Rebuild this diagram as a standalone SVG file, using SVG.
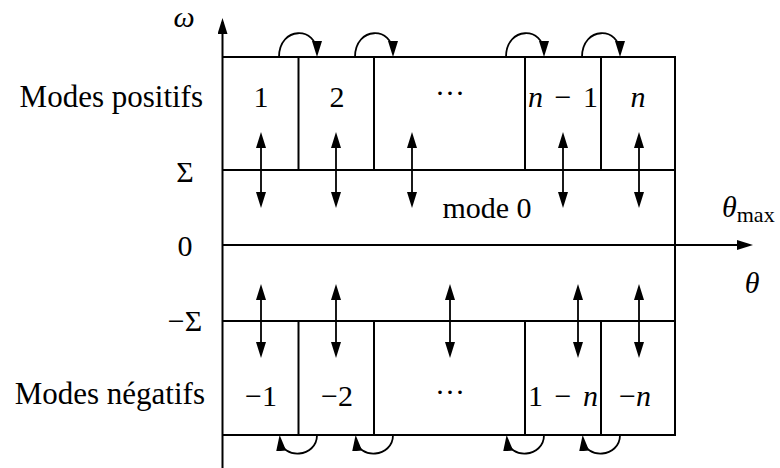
<svg xmlns="http://www.w3.org/2000/svg" width="780" height="468" viewBox="0 0 780 468">
<style>
.ln{stroke:#000;stroke-width:2;fill:none}
.ar{stroke:#000;stroke-width:1.8;fill:none}
.t{font-family:"Liberation Serif","Times New Roman",serif;font-size:30px;fill:#000}
.lab{font-family:"Liberation Serif","Times New Roman",serif;font-size:31px;fill:#000}
.i{font-style:italic}
.m{text-anchor:middle}
.w{word-spacing:4px}
</style>
<defs>
<marker id="ah" markerUnits="userSpaceOnUse" markerWidth="18" markerHeight="12" refX="12" refY="5" orient="auto-start-reverse">
<path d="M0,0 L16,5 L0,10 z" fill="#000"/>
</marker>
</defs>
<rect width="780" height="468" fill="#fff"/>
<g id="axes">
<line class="ln" x1="222.5" y1="468" x2="222.5" y2="22" marker-end="url(#ah)"/>
<line class="ln" x1="222.5" y1="245" x2="749" y2="245" marker-end="url(#ah)"/>
<text class="t i m" x="184" y="27">ω</text>
<text class="t" x="722" y="217"><tspan class="i">θ</tspan><tspan font-size="22" dy="5">max</tspan></text>
<text class="t i m" x="752" y="293">θ</text>
<text class="t m" x="185" y="182">Σ</text>
<text class="t m" x="185" y="256">0</text>
<text class="t m" x="185" y="331">−Σ</text>
<text class="lab" x="203" y="107" text-anchor="end">Modes positifs</text>
<text class="lab" x="205" y="404" text-anchor="end">Modes négatifs</text>
</g>
<g id="frame">
<polyline class="ln" points="222.5,57 675,57 675,435 222.5,435"/>
<line class="ln" x1="222.5" y1="170" x2="675" y2="170"/>
<line class="ln" x1="222.5" y1="321" x2="675" y2="321"/>
</g>
<g id="positive-modes">
<g id="mode-p1"><line class="ln" x1="298.5" y1="57" x2="298.5" y2="170"/><text class="t m" x="261" y="107">1</text></g>
<g id="mode-p2"><line class="ln" x1="374" y1="57" x2="374" y2="170"/><text class="t m" x="337" y="107">2</text></g>
<g id="mode-pdots"><line class="ln" x1="525" y1="57" x2="525" y2="170"/><text class="t m" x="450" y="103">···</text></g>
<g id="mode-pn1"><line class="ln" x1="601" y1="57" x2="601" y2="170"/><text class="t m w" x="563" y="107"><tspan class="i">n</tspan> − 1</text></g>
<g id="mode-pn"><text class="t i m" x="638" y="107">n</text></g>
</g>
<g id="mode-0"><text class="t m" x="487" y="218">mode 0</text></g>
<g id="negative-modes">
<g id="mode-m1"><line class="ln" x1="298.5" y1="321" x2="298.5" y2="435"/><text class="t m" x="261" y="406">−1</text></g>
<g id="mode-m2"><line class="ln" x1="374" y1="321" x2="374" y2="435"/><text class="t m" x="337" y="406">−2</text></g>
<g id="mode-mdots"><line class="ln" x1="525" y1="321" x2="525" y2="435"/><text class="t m" x="450" y="402">···</text></g>
<g id="mode-mn1"><line class="ln" x1="601" y1="321" x2="601" y2="435"/><text class="t m w" x="563" y="406">1 − <tspan class="i">n</tspan></text></g>
<g id="mode-mn"><text class="t m" x="635" y="406">−<tspan class="i">n</tspan></text></g>
</g>
<g id="connectors">
<line class="ar" x1="261" y1="136" x2="261" y2="204" marker-start="url(#ah)" marker-end="url(#ah)"/>
<line class="ar" x1="336" y1="136" x2="336" y2="204" marker-start="url(#ah)" marker-end="url(#ah)"/>
<line class="ar" x1="412" y1="136" x2="412" y2="204" marker-start="url(#ah)" marker-end="url(#ah)"/>
<line class="ar" x1="563" y1="136" x2="563" y2="204" marker-start="url(#ah)" marker-end="url(#ah)"/>
<line class="ar" x1="639" y1="136" x2="639" y2="204" marker-start="url(#ah)" marker-end="url(#ah)"/>
<line class="ar" x1="261" y1="288" x2="261" y2="354" marker-start="url(#ah)" marker-end="url(#ah)"/>
<line class="ar" x1="336" y1="288" x2="336" y2="354" marker-start="url(#ah)" marker-end="url(#ah)"/>
<line class="ar" x1="450" y1="288" x2="450" y2="354" marker-start="url(#ah)" marker-end="url(#ah)"/>
<line class="ar" x1="578" y1="288" x2="578" y2="354" marker-start="url(#ah)" marker-end="url(#ah)"/>
<line class="ar" x1="639" y1="288" x2="639" y2="354" marker-start="url(#ah)" marker-end="url(#ah)"/>
<path class="ar" d="M279,57 C279,26 317,26 317,53" marker-end="url(#ah)"/>
<path class="ar" d="M355,57 C355,26 393,26 393,53" marker-end="url(#ah)"/>
<path class="ar" d="M506,57 C506,26 544,26 544,53" marker-end="url(#ah)"/>
<path class="ar" d="M582,57 C582,26 620,26 620,53" marker-end="url(#ah)"/>
<path class="ar" d="M317,435 C317,458 282,460 280,439" marker-end="url(#ah)"/>
<path class="ar" d="M393,435 C393,458 358,460 356,439" marker-end="url(#ah)"/>
<path class="ar" d="M544,435 C544,458 509,460 507,439" marker-end="url(#ah)"/>
<path class="ar" d="M620,435 C620,458 585,460 583,439" marker-end="url(#ah)"/>
</g>
</svg>
